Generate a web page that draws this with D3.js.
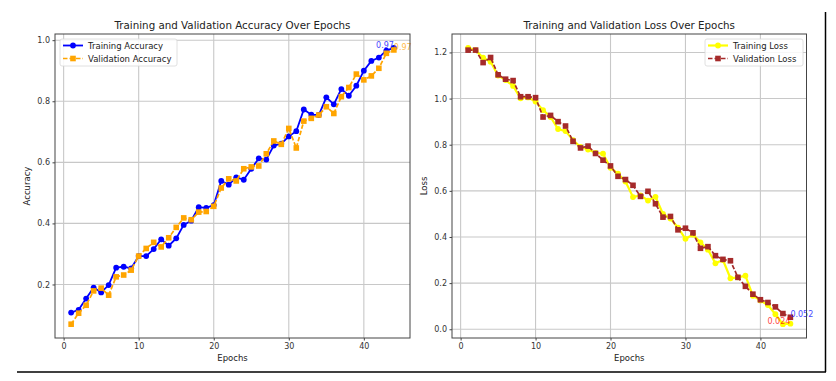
<!DOCTYPE html>
<html><head><meta charset="utf-8">
<script src="https://cdn.jsdelivr.net/npm/d3@7"></script>
<style>
html,body{margin:0;padding:0;background:#fff;}
svg{display:block;font-family:"DejaVu Sans",sans-serif;}
</style></head>
<body><svg id="c" width="836" height="381"></svg>
<script>
const epochs = d3.range(1, 45);
const trainAcc = [0.108,0.117,0.154,0.190,0.174,0.198,0.255,0.258,0.253,0.293,
  0.293,0.316,0.348,0.327,0.351,0.395,0.409,0.453,0.451,0.460,
  0.539,0.527,0.551,0.543,0.579,0.613,0.609,0.655,0.661,0.685,
  0.702,0.773,0.756,0.755,0.813,0.790,0.840,0.818,0.851,0.900,
  0.932,0.943,0.966,0.975];
const valAcc = [0.070,0.106,0.132,0.179,0.188,0.165,0.225,0.231,0.247,0.293,
  0.318,0.338,0.323,0.353,0.387,0.418,0.412,0.437,0.439,0.456,
  0.516,0.546,0.539,0.579,0.585,0.588,0.628,0.670,0.659,0.711,
  0.647,0.735,0.744,0.755,0.782,0.760,0.815,0.845,0.889,0.870,
  0.883,0.908,0.957,0.968];
const trainLoss = [1.220,1.210,1.177,1.160,1.100,1.080,1.055,1.001,1.005,0.987,
  0.950,0.920,0.868,0.859,0.820,0.790,0.779,0.765,0.761,0.700,
  0.675,0.640,0.573,0.580,0.558,0.574,0.500,0.480,0.440,0.392,
  0.410,0.377,0.345,0.286,0.300,0.221,0.225,0.232,0.145,0.125,
  0.105,0.065,0.022,0.024];
const valLoss = [1.210,1.210,1.156,1.178,1.103,1.084,1.078,1.008,1.008,1.004,
  0.920,0.927,0.900,0.881,0.815,0.786,0.794,0.762,0.733,0.708,
  0.663,0.649,0.624,0.576,0.598,0.544,0.486,0.489,0.431,0.438,
  0.418,0.351,0.358,0.319,0.303,0.297,0.225,0.186,0.152,0.128,
  0.116,0.097,0.068,0.052];
const xTicks = [0,10,20,30,40];
const accTicks = [0.2,0.4,0.6,0.8,1.0];
const lossTicks = [0.0,0.2,0.4,0.6,0.8,1.0,1.2];
const accLabels = ["0.97","0.97"];
const lossLabels = ["0.024","0.052"];

const svg = d3.select("#c");
const FS = 8;      // tick labels, annotations
const LFS = 8.5;   // axis labels, legend

svg.append("line").attr("x1",17).attr("x2",826).attr("y1",372).attr("y2",372).attr("stroke","#000").attr("stroke-width",1.5);
svg.append("line").attr("x1",825.5).attr("x2",825.5).attr("y1",12).attr("y2",372).attr("stroke","#000").attr("stroke-width",1.5);

function pad(ext){const s=ext[1]-ext[0];return [ext[0]-0.05*s, ext[1]+0.05*s];}

function panel(o){
  const g = svg.append("g");
  const x = d3.scaleLinear().domain(pad(d3.extent(epochs))).range([o.x0,o.x1]);
  const all = o.s1.concat(o.s2);
  const y = d3.scaleLinear().domain(pad(d3.extent(all))).range([o.y1,o.y0]);
  g.append("g").selectAll("line").data(xTicks).join("line")
    .attr("x1",d=>x(d)).attr("x2",d=>x(d)).attr("y1",o.y0).attr("y2",o.y1)
    .attr("stroke","#c8c8c8").attr("stroke-width",1.1);
  g.append("g").selectAll("line").data(o.yTicks).join("line")
    .attr("y1",d=>y(d)).attr("y2",d=>y(d)).attr("x1",o.x0).attr("x2",o.x1)
    .attr("stroke","#c8c8c8").attr("stroke-width",1.1);
  const xa = g.append("g").attr("transform",`translate(0,${o.y1})`)
    .call(d3.axisBottom(x).tickValues(xTicks).tickFormat(d3.format("d")).tickSize(2.5).tickPadding(2.5));
  const ya = g.append("g").attr("transform",`translate(${o.x0},0)`)
    .call(d3.axisLeft(y).tickValues(o.yTicks).tickFormat(d3.format(".1f")).tickSize(2.5).tickPadding(2.5));
  [xa,ya].forEach(a=>{
    a.select(".domain").remove();
    a.selectAll("line").attr("stroke","#444");
    a.selectAll("text").attr("font-size",FS).attr("fill","#333").attr("font-family","DejaVu Sans");
  });
  const line1 = d3.line().x((d,i)=>x(epochs[i])).y(d=>y(d));
  g.append("path").datum(o.s1).attr("d",line1).attr("fill","none")
    .attr("stroke",o.c1).attr("stroke-width",o.w1);
  g.append("g").selectAll("circle").data(o.s1).join("circle")
    .attr("cx",(d,i)=>x(epochs[i])).attr("cy",d=>y(d)).attr("r",2.9).attr("fill",o.c1);
  g.append("path").datum(o.s2).attr("d",line1).attr("fill","none")
    .attr("stroke",o.c2).attr("stroke-width",1.7).attr("stroke-dasharray","4.5,2");
  g.append("g").selectAll("rect").data(o.s2).join("rect")
    .attr("x",(d,i)=>x(epochs[i])-2.8).attr("y",d=>y(d)-2.8).attr("width",5.6).attr("height",5.6).attr("fill",o.c2);
  const n = epochs.length-1;
  g.append("text").attr("x",x(epochs[n])).attr("y",y(o.s1[n])).attr("text-anchor","end")
    .attr("font-size",FS).attr("fill",o.a1).attr("opacity",0.75).text(o.l1);
  g.append("text").attr("x",x(epochs[n])).attr("y",y(o.s2[n])).attr("text-anchor","start")
    .attr("font-size",FS).attr("fill",o.a2).attr("opacity",0.75).text(o.l2);
  g.append("rect").attr("x",o.x0).attr("y",o.y0).attr("width",o.x1-o.x0).attr("height",o.y1-o.y0)
    .attr("fill","none").attr("stroke","#444").attr("stroke-width",1);
  const cx=(o.x0+o.x1)/2;
  g.append("text").attr("x",cx).attr("y",29).attr("text-anchor","middle").attr("font-size",10.3).attr("fill","#222").text(o.title);
  g.append("text").attr("x",cx).attr("y",361).attr("text-anchor","middle").attr("font-size",LFS).attr("fill","#222").text("Epochs");
  g.append("text").attr("transform",`translate(${o.ylx},186) rotate(-90)`).attr("text-anchor","middle")
    .attr("font-size",LFS).attr("fill","#222").text(o.ylabel);
  const lg = g.append("g").attr("transform",`translate(${o.lx},39)`);
  lg.append("rect").attr("width",o.lw).attr("height",27).attr("rx",2).attr("fill","#fff").attr("fill-opacity",0.85)
    .attr("stroke","#d8d8d8").attr("stroke-width",0.8);
  lg.append("line").attr("x1",3).attr("x2",23).attr("y1",6.5).attr("y2",6.5).attr("stroke",o.c1).attr("stroke-width",o.w1);
  lg.append("circle").attr("cx",13).attr("cy",6.5).attr("r",2.9).attr("fill",o.c1);
  lg.append("line").attr("x1",3).attr("x2",23).attr("y1",19.5).attr("y2",19.5).attr("stroke",o.c2).attr("stroke-width",1.7).attr("stroke-dasharray","4.5,2");
  lg.append("rect").attr("x",10.2).attr("y",16.7).attr("width",5.6).attr("height",5.6).attr("fill",o.c2);
  lg.append("text").attr("x",28).attr("y",9.5).attr("font-size",LFS).attr("fill","#222").text(o.n1);
  lg.append("text").attr("x",28).attr("y",22.5).attr("font-size",LFS).attr("fill","#222").text(o.n2);
}

panel({x0:55,x1:410,y0:34,y1:338,s1:trainAcc,s2:valAcc,c1:"blue",c2:"orange",w1:1.8,
  yTicks:accTicks,a1:"blue",a2:"orange",l1:accLabels[0],l2:accLabels[1],
  title:"Training and Validation Accuracy Over Epochs",ylabel:"Accuracy",ylx:30,
  lx:60,lw:117,n1:"Training Accuracy",n2:"Validation Accuracy"});
panel({x0:452,x1:806.5,y0:34,y1:338,s1:trainLoss,s2:valLoss,c1:"yellow",c2:"#a52a2a",w1:2.2,
  yTicks:lossTicks,a1:"red",a2:"blue",l1:lossLabels[0],l2:lossLabels[1],
  title:"Training and Validation Loss Over Epochs",ylabel:"Loss",ylx:427,
  lx:705,lw:98,n1:"Training Loss",n2:"Validation Loss"});
</script></body></html>
